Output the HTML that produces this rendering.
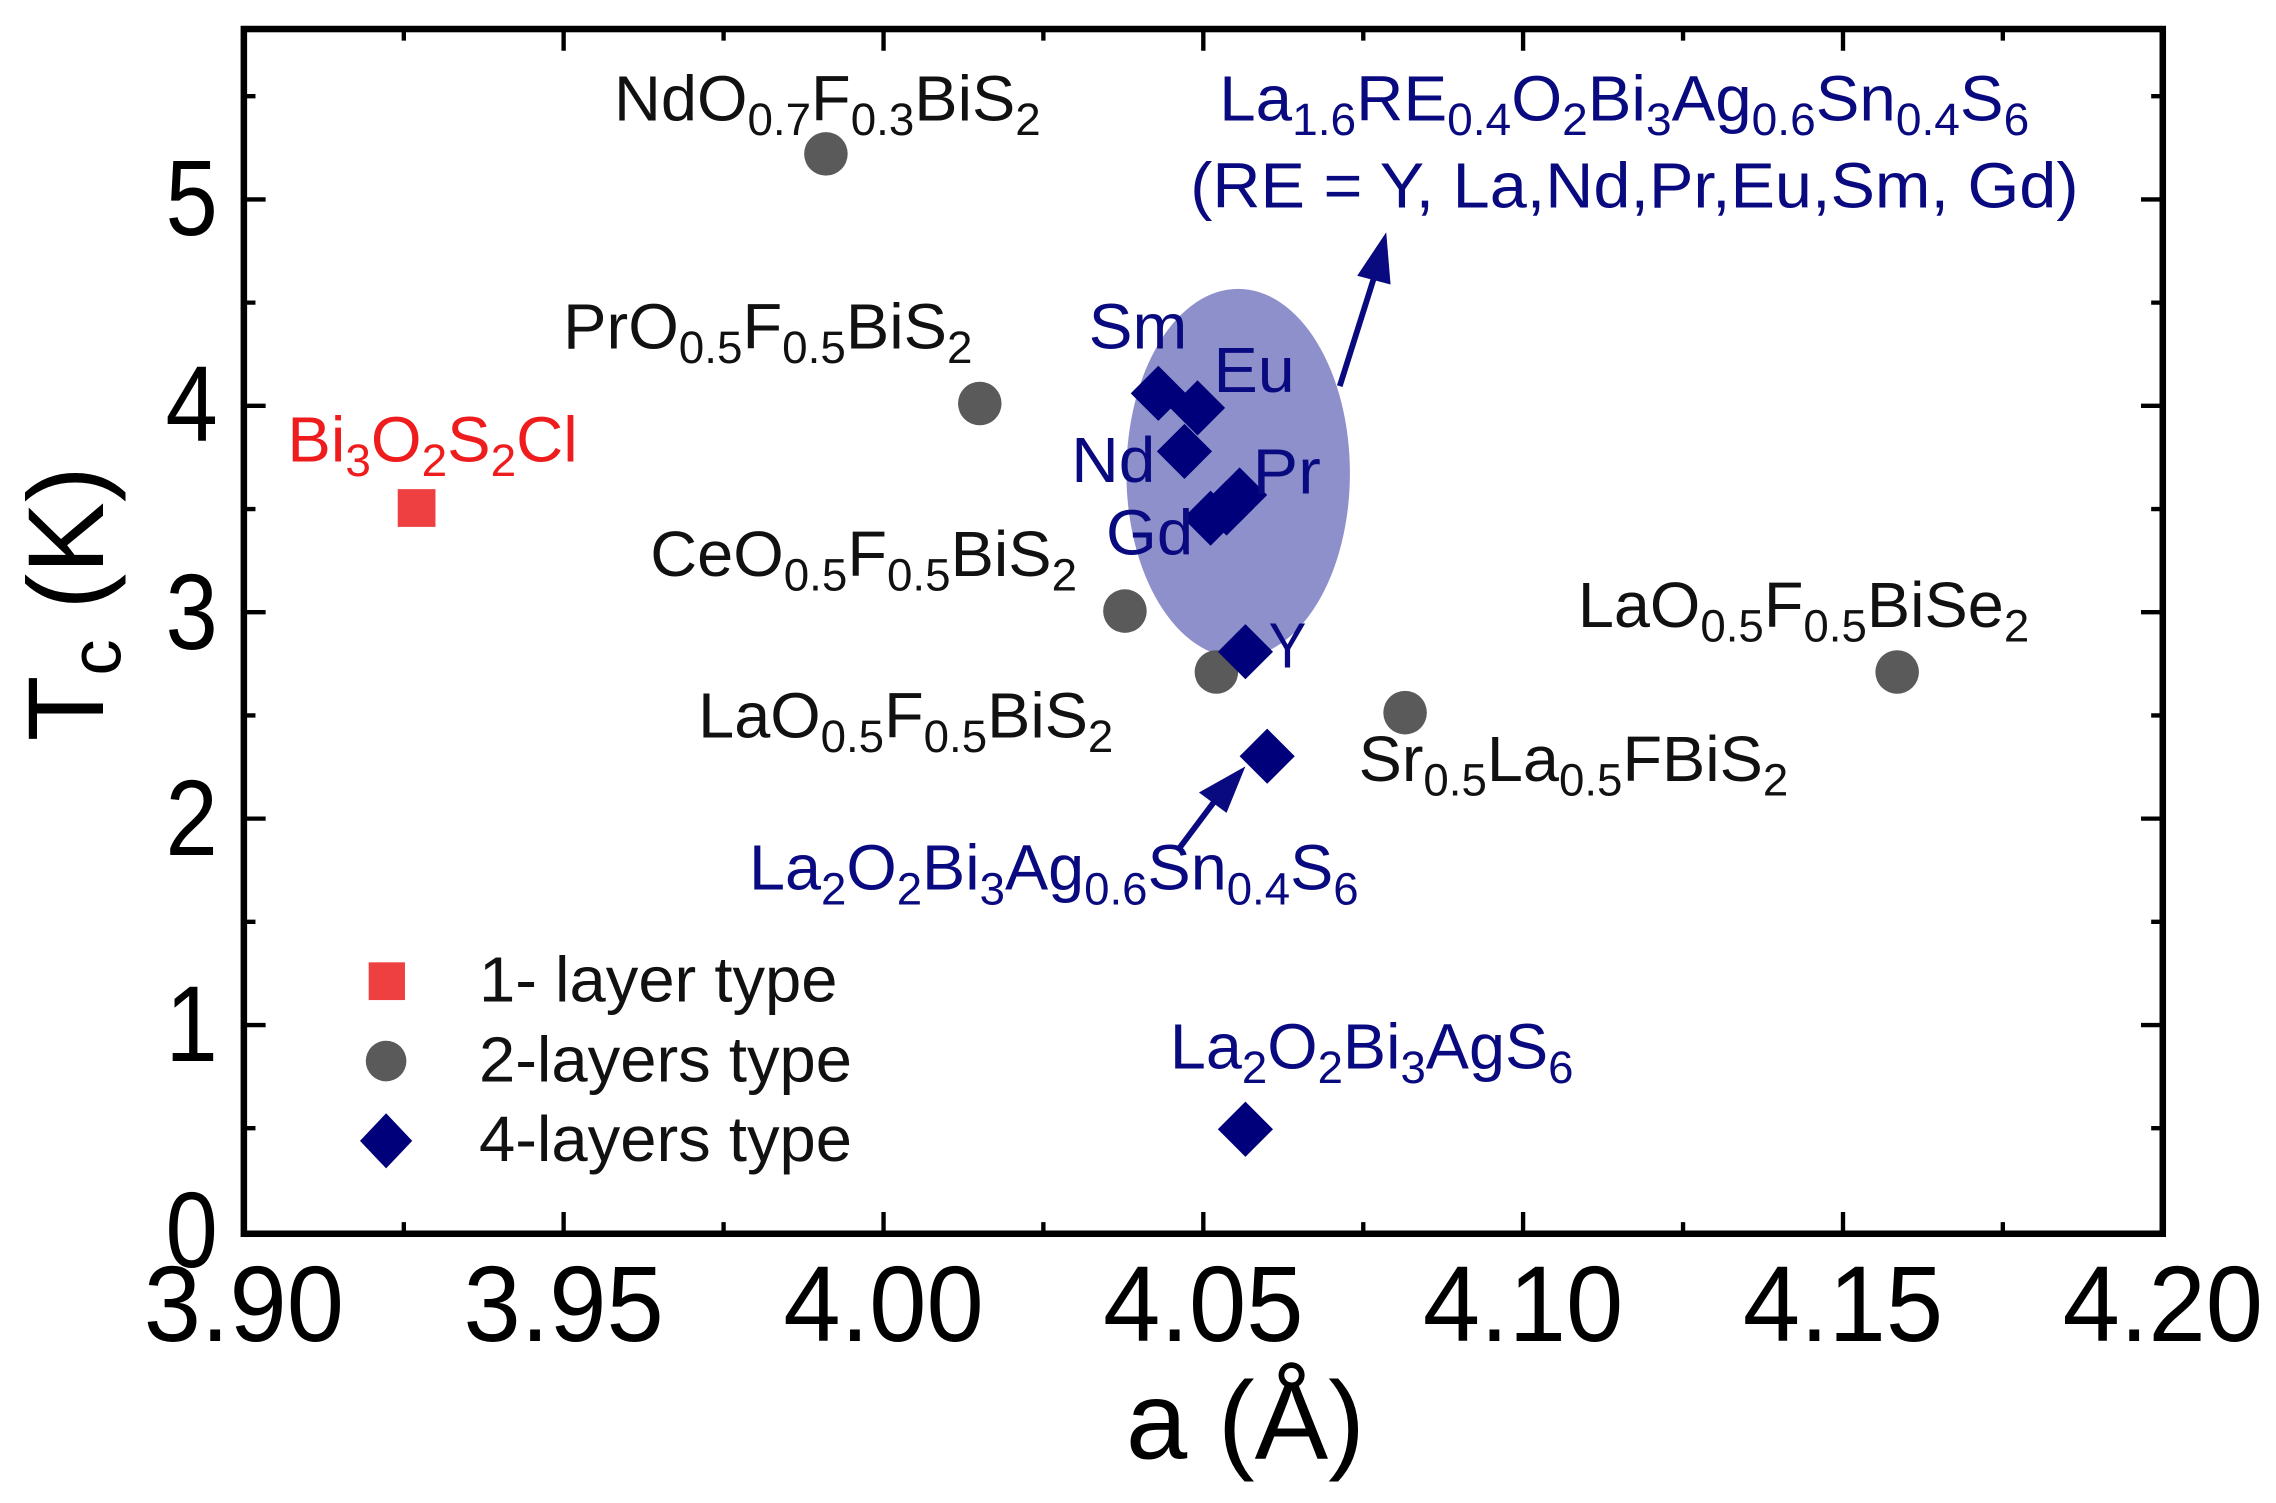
<!DOCTYPE html>
<html><head><meta charset="utf-8"><style>
html,body{margin:0;padding:0;background:#fff;}
svg{display:block;}
text{font-family:"Liberation Sans",Arial,sans-serif;}
.s{font-size:31px;}
.lb{font-size:44px;}
</style></head><body>
<svg width="2276" height="1503" viewBox="0 0 1568 1035.5" preserveAspectRatio="none" xmlns="http://www.w3.org/2000/svg">
<rect width="1568" height="1035.5" fill="#fff"/>
<ellipse cx="853" cy="326" rx="77" ry="127" fill="#8e90cb"/>
<rect x="168" y="20" width="1322" height="830" fill="none" stroke="#000" stroke-width="4.5"/>
<g stroke="#000" stroke-width="3">
<path d="M168,850v-15M388.3,850v-15M608.7,850v-15M829,850v-15M1049.3,850v-15M1269.7,850v-15M1490,850v-15
M278.2,850v-8M498.5,850v-8M718.8,850v-8M939.2,850v-8M1159.5,850v-8M1379.8,850v-8
M388.3,20v15M608.7,20v15M829,20v15M1049.3,20v15M1269.7,20v15
M278.2,20v8M498.5,20v8M718.8,20v8M939.2,20v8M1159.5,20v8M1379.8,20v8"/>
<path d="M168,706.2h15M168,564h15M168,421.8h15M168,279.6h15M168,137.4h15
M168,777.3h8M168,635.1h8M168,492.9h8M168,350.7h8M168,208.5h8M168,66.3h8
M1490,706.2h-15M1490,564h-15M1490,421.8h-15M1490,279.6h-15M1490,137.4h-15
M1490,777.3h-8M1490,635.1h-8M1490,492.9h-8M1490,350.7h-8M1490,208.5h-8M1490,66.3h-8"/>
</g>
<g font-size="74" text-anchor="end" fill="#000">
<text x="150" y="873" textLength="36" lengthAdjust="spacingAndGlyphs">0</text><text x="150" y="731" textLength="36" lengthAdjust="spacingAndGlyphs">1</text><text x="150" y="589" textLength="36" lengthAdjust="spacingAndGlyphs">2</text>
<text x="150" y="447" textLength="36" lengthAdjust="spacingAndGlyphs">3</text><text x="150" y="304" textLength="36" lengthAdjust="spacingAndGlyphs">4</text><text x="150" y="162" textLength="36" lengthAdjust="spacingAndGlyphs">5</text>
</g>
<g font-size="74" text-anchor="middle" fill="#000">
<text x="168" y="924" textLength="138" lengthAdjust="spacingAndGlyphs">3.90</text><text x="388.3" y="924" textLength="138" lengthAdjust="spacingAndGlyphs">3.95</text><text x="608.7" y="924" textLength="138" lengthAdjust="spacingAndGlyphs">4.00</text>
<text x="829" y="924" textLength="138" lengthAdjust="spacingAndGlyphs">4.05</text><text x="1049.3" y="924" textLength="138" lengthAdjust="spacingAndGlyphs">4.10</text><text x="1269.7" y="924" textLength="138" lengthAdjust="spacingAndGlyphs">4.15</text><text x="1490" y="924" textLength="138" lengthAdjust="spacingAndGlyphs">4.20</text>
</g>
<text x="858" y="1005" font-size="76" text-anchor="middle">a (Å)</text>
<text transform="translate(71,416) rotate(-90)" font-size="74" text-anchor="middle">T<tspan font-size="50" dy="12">c</tspan><tspan dy="-12"> (K)</tspan></text>

<g stroke="#0a0a80" stroke-width="4" fill="#0a0a80">
<line x1="923" y1="266" x2="947" y2="190"/>
<polygon points="955,160 935,190 958,196" stroke="none"/>
<line x1="812" y1="585" x2="836" y2="553"/>
<polygon points="858,528 826,546 845,560" stroke="none"/>
</g>

<rect x="274" y="337" width="26" height="26" fill="#ee4040"/>
<g fill="#5a5a5a">
<circle cx="569" cy="106" r="15"/><circle cx="675" cy="278" r="15"/><circle cx="775" cy="421" r="15"/>
<circle cx="838" cy="463" r="15"/><circle cx="968" cy="491" r="15"/><circle cx="1307" cy="463" r="15"/>
</g>
<g fill="#00007a">
<path d="M858,759l19,19l-19,19l-19,-19z"/>
<path d="M873,502l19,19l-19,19l-19,-19z"/>
<path d="M858,430l19,19l-19,19l-19,-19z"/>
<path d="M798,252l19,19l-19,19l-19,-19z"/>
<path d="M825,262l19,19l-19,19l-19,-19z"/>
<path d="M816,292l19,19l-19,19l-19,-19z"/>
<path d="M854,322l19,19l-19,19l-19,-19z"/>
<path d="M845,331l19,19l-19,19l-19,-19z"/>
<path d="M834,338l19,19l-19,19l-19,-19z"/>
</g>

<g class="lb" fill="#111">
<text x="423" y="83" textLength="294" lengthAdjust="spacingAndGlyphs">NdO<tspan class="s" dy="10">0.7</tspan><tspan dy="-10">F</tspan><tspan class="s" dy="10">0.3</tspan><tspan dy="-10">BiS</tspan><tspan class="s" dy="10">2</tspan></text>
<text x="388" y="240" textLength="282" lengthAdjust="spacingAndGlyphs">PrO<tspan class="s" dy="10">0.5</tspan><tspan dy="-10">F</tspan><tspan class="s" dy="10">0.5</tspan><tspan dy="-10">BiS</tspan><tspan class="s" dy="10">2</tspan></text>
<text x="448" y="397" textLength="294" lengthAdjust="spacingAndGlyphs">CeO<tspan class="s" dy="10">0.5</tspan><tspan dy="-10">F</tspan><tspan class="s" dy="10">0.5</tspan><tspan dy="-10">BiS</tspan><tspan class="s" dy="10">2</tspan></text>
<text x="481" y="508" textLength="286" lengthAdjust="spacingAndGlyphs">LaO<tspan class="s" dy="10">0.5</tspan><tspan dy="-10">F</tspan><tspan class="s" dy="10">0.5</tspan><tspan dy="-10">BiS</tspan><tspan class="s" dy="10">2</tspan></text>
<text x="936" y="538" textLength="296" lengthAdjust="spacingAndGlyphs">Sr<tspan class="s" dy="10">0.5</tspan><tspan dy="-10">La</tspan><tspan class="s" dy="10">0.5</tspan><tspan dy="-10">FBiS</tspan><tspan class="s" dy="10">2</tspan></text>
<text x="1087" y="432" textLength="311" lengthAdjust="spacingAndGlyphs">LaO<tspan class="s" dy="10">0.5</tspan><tspan dy="-10">F</tspan><tspan class="s" dy="10">0.5</tspan><tspan dy="-10">BiSe</tspan><tspan class="s" dy="10">2</tspan></text>
</g>
<text class="lb" x="198" y="318" fill="#ee1c1c" textLength="200" lengthAdjust="spacingAndGlyphs">Bi<tspan class="s" dy="10">3</tspan><tspan dy="-10">O</tspan><tspan class="s" dy="10">2</tspan><tspan dy="-10">S</tspan><tspan class="s" dy="10">2</tspan><tspan dy="-10">Cl</tspan></text>

<g class="lb" fill="#0a0a80">
<text x="840" y="83" textLength="558" lengthAdjust="spacingAndGlyphs">La<tspan class="s" dy="10">1.6</tspan><tspan dy="-10">RE</tspan><tspan class="s" dy="10">0.4</tspan><tspan dy="-10">O</tspan><tspan class="s" dy="10">2</tspan><tspan dy="-10">Bi</tspan><tspan class="s" dy="10">3</tspan><tspan dy="-10">Ag</tspan><tspan class="s" dy="10">0.6</tspan><tspan dy="-10">Sn</tspan><tspan class="s" dy="10">0.4</tspan><tspan dy="-10">S</tspan><tspan class="s" dy="10">6</tspan></text>
<text x="820" y="143" textLength="612" lengthAdjust="spacingAndGlyphs">(RE = Y, La,Nd,Pr,Eu,Sm, Gd)</text>
<text x="750" y="240" textLength="68" lengthAdjust="spacingAndGlyphs">Sm</text>
<text x="836" y="270" textLength="56" lengthAdjust="spacingAndGlyphs">Eu</text>
<text x="738" y="332" textLength="58" lengthAdjust="spacingAndGlyphs">Nd</text>
<text x="863" y="340" textLength="47" lengthAdjust="spacingAndGlyphs">Pr</text>
<text x="762" y="382" textLength="60" lengthAdjust="spacingAndGlyphs">Gd</text>
<text x="874" y="460" textLength="26" lengthAdjust="spacingAndGlyphs">Y</text>
<text x="516" y="613" textLength="420" lengthAdjust="spacingAndGlyphs">La<tspan class="s" dy="10">2</tspan><tspan dy="-10">O</tspan><tspan class="s" dy="10">2</tspan><tspan dy="-10">Bi</tspan><tspan class="s" dy="10">3</tspan><tspan dy="-10">Ag</tspan><tspan class="s" dy="10">0.6</tspan><tspan dy="-10">Sn</tspan><tspan class="s" dy="10">0.4</tspan><tspan dy="-10">S</tspan><tspan class="s" dy="10">6</tspan></text>
<text x="806" y="736" textLength="278" lengthAdjust="spacingAndGlyphs">La<tspan class="s" dy="10">2</tspan><tspan dy="-10">O</tspan><tspan class="s" dy="10">2</tspan><tspan dy="-10">Bi</tspan><tspan class="s" dy="10">3</tspan><tspan dy="-10">AgS</tspan><tspan class="s" dy="10">6</tspan></text>
</g>

<rect x="254" y="663" width="25" height="26" fill="#ee4040"/>
<circle cx="266" cy="731" r="14" fill="#5a5a5a"/>
<path d="M266,767l18,19l-18,19l-18,-19z" fill="#00007a"/>
<g class="lb" fill="#111">
<text x="330" y="690" textLength="247" lengthAdjust="spacingAndGlyphs">1- layer type</text>
<text x="330" y="745" textLength="257" lengthAdjust="spacingAndGlyphs">2-layers type</text>
<text x="330" y="800" textLength="257" lengthAdjust="spacingAndGlyphs">4-layers type</text>
</g>
</svg>
</body></html>
